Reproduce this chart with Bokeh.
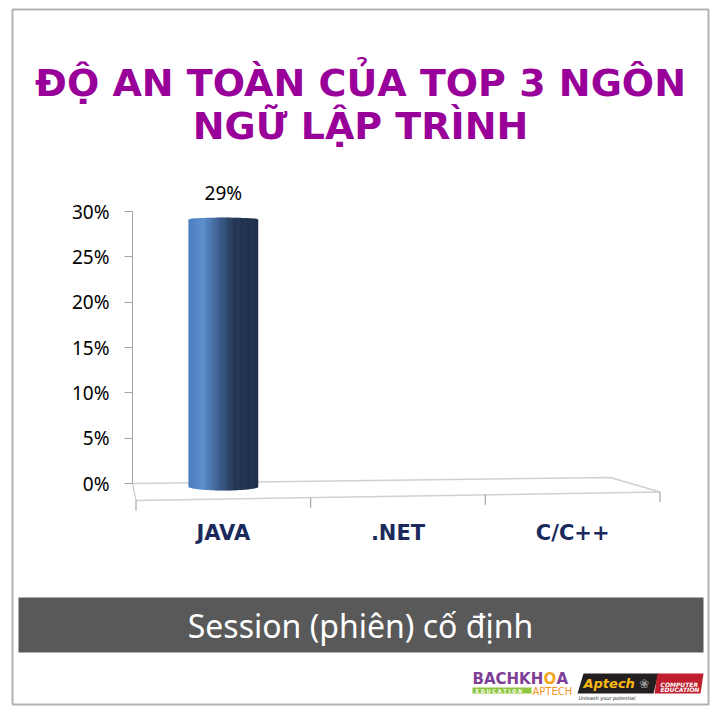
import numpy as np
from bokeh.plotting import figure
from bokeh.models import (Range1d, FixedTicker, NumeralTickFormatter,
                          Label, BoxAnnotation, PolyAnnotation)
from bokeh.embed import file_html
from bokeh.resources import INLINE
from bokeh.core.properties import value

# ---------------- data ----------------
title_lines = ["ĐỘ AN TOÀN CỦA TOP 3 NGÔN", "NGỮ LẬP TRÌNH"]
categories = ["JAVA", ".NET", "C/C++"]
values = [0.29, 0.0, 0.0]
value_labels = ["29%", "", ""]
y_ticks = [0.0, 0.05, 0.10, 0.15, 0.20, 0.25, 0.30]
footer_text = "Session (phiên) cố định"

# ---------------- geometry (page pixels) ----------------
W = H = 720
X0_PAGE, XS = 135.5, 174.67     # page x of category-axis origin, px per category
Y0_PAGE, YS = 483.0, 906.6      # page y of 0%, px per unit (100%)
n = len(categories)

def sx(px):   # page x -> screen units
    return px

def sy(py):   # page y -> screen units (from bottom)
    return H - py

def dx(px):   # page x -> data x
    return (px - X0_PAGE) / XS

def dy(py):   # page y -> data y
    return (Y0_PAGE - py) / YS

p = figure(width=W, height=H, output_backend="svg", toolbar_location=None, title=None,
           x_range=Range1d(dx(0), dx(W)), y_range=Range1d(dy(H), dy(0)),
           min_border=0, min_border_left=0, min_border_right=0,
           min_border_top=0, min_border_bottom=0)
p.outline_line_color = None
p.xgrid.visible = False
p.ygrid.visible = False
p.background_fill_color = "white"
p.border_fill_color = "white"

# y axis (drawn at a fixed location inside the canvas)
yax = p.yaxis[0]
yax.fixed_location = dx(132)
yax.ticker = FixedTicker(ticks=y_ticks)
yax.formatter = NumeralTickFormatter(format="0%")
yax.bounds = (y_ticks[0], y_ticks[-1])
yax.axis_line_color = "#A6A6A6"
yax.major_tick_line_color = "#A6A6A6"
yax.major_tick_out = 8
yax.major_tick_in = 0
yax.minor_tick_line_color = None
yax.major_label_text_font = "Noto Sans"
yax.major_label_text_font_size = "19px"
yax.major_label_text_color = "black"
yax.major_label_standoff = 15

# x axis (category labels)
xax = p.xaxis[0]
xax.fixed_location = dy(510)
xax.ticker = FixedTicker(ticks=[i + 0.5 for i in range(n)])
xax.major_label_overrides = {i + 0.5: c for i, c in enumerate(categories)}
xax.axis_line_color = None
xax.major_tick_line_color = None
xax.minor_tick_line_color = None
xax.major_label_text_font = "DejaVu Sans"
xax.major_label_text_font_style = "bold"
xax.major_label_text_font_size = "21px"
xax.major_label_text_color = "#1B2A5C"
xax.major_label_standoff = 4

# ---------------- 3D floor ----------------
def yfront(x):
    return dy(500) + (x / n) * (dy(491.5) - dy(500))

left_edge = dx(132)
p.line([left_edge, n * 0.905, n], [0.0, dy(477), yfront(n)], line_color="#D0D0D0", line_width=1.5)
p.line([0, n], [yfront(0), yfront(n)], line_color="#D0D0D0", line_width=1.5)
p.line([left_edge, 0], [0.0, yfront(0)], line_color="#C8C8C8", line_width=1.2)
bx = list(range(n + 1))
p.segment(x0=bx, y0=[yfront(x) for x in bx], x1=bx,
          y1=[yfront(x) - 10 / YS for x in bx], line_color="#A6A6A6", line_width=1.2)

# ---------------- cylinder bars (gradient strips) ----------------
stops_t = [0.0, 0.2, 0.45, 0.65, 1.0]
stops_c = [(0x4A, 0x7C, 0xBD), (0x5E, 0x90, 0xD0), (0x3B, 0x5C, 0x8C),
           (0x24, 0x37, 0x56), (0x20, 0x30, 0x4C)]

def grad(t):
    r = np.interp(t, stops_t, [c[0] for c in stops_c])
    g = np.interp(t, stops_t, [c[1] for c in stops_c])
    b = np.interp(t, stops_t, [c[2] for c in stops_c])
    return "#%02x%02x%02x" % (int(r), int(g), int(b))

bar_w = 0.40
NS = 40
ov = 0.6 / XS
L, R, B, T, C = [], [], [], [], []
for i, v in enumerate(values):
    if v <= 0:
        continue
    c = i + 0.5
    for k in range(NS):
        t0, t1 = k / NS, (k + 1) / NS
        tm = (t0 + t1) / 2
        u = 2 * tm - 1
        e = np.sqrt(max(0.0, 1 - u * u))
        L.append(c - bar_w / 2 + t0 * bar_w)
        R.append(c - bar_w / 2 + t1 * bar_w + (ov if k < NS - 1 else 0))
        B.append(-(3 + 4 * e) / YS)
        T.append(v + (1 + 2 * e) / YS)
        C.append(grad(tm))
p.quad(left=L, right=R, bottom=B, top=T, fill_color=C, line_color=None)

lab_x = [i + 0.5 for i, v in enumerate(values) if v > 0]
lab_y = [v for v in values if v > 0]
lab_t = [value_labels[i] for i, v in enumerate(values) if v > 0]
p.text(x=lab_x, y=lab_y, text=lab_t, text_align="center", text_baseline="bottom",
       y_offset=-15, text_font=value("Noto Sans"), text_font_size="19px", text_color="black")

# ---------------- helpers ----------------
def lbl(x, y, text, size, color, style="bold", font="DejaVu Sans", align="left"):
    p.add_layout(Label(x=sx(x), y=sy(y), x_units="screen", y_units="screen", text=text,
                       text_align=align, text_baseline="middle", text_font=font,
                       text_font_style=style, text_font_size=size, text_color=color))

def box(l, r, t, b, color, **kw):
    p.add_layout(BoxAnnotation(left=sx(l), right=sx(r), top=sy(t), bottom=sy(b),
                               left_units="screen", right_units="screen", top_units="screen",
                               bottom_units="screen", fill_color=color, fill_alpha=1.0,
                               line_color=None, **kw))

def poly(xs, ys, color):
    p.add_layout(PolyAnnotation(xs=[sx(x) for x in xs], ys=[sy(y) for y in ys],
                                xs_units="screen", ys_units="screen", fill_color=color,
                                fill_alpha=1.0, line_color=None))

# ---------------- title ----------------
for line, mid in zip(title_lines, [82, 125]):
    lbl(360, mid, line, "38px", "#990099", style="bold", align="center")

# ---------------- footer band ----------------
box(18, 703, 597, 652, "#595959")
lbl(360, 625, footer_text, "32px", "white", style="normal", font="Noto Sans", align="center")

# ---------------- logo ----------------
lbl(472, 678.5, "BACHKH", "15px", "#7F3F98")
lbl(543, 678.5, "O", "15px", "#F5A623")
lbl(556, 678.5, "A", "15px", "#7F3F98")
box(472, 531, 687, 693, "#8DC63F")
lbl(475, 690, "E D U C A T I O N", "5px", "white")
lbl(532, 690.5, "APTECH", "10px", "#F7941D", style="normal")
poly([583, 658, 653, 577], [673, 673, 693, 693], "#231F20")
poly([657, 703, 700, 654], [673, 673, 693, 693], "#BE1E2D")
lbl(583, 683, "Aptech", "13px", "#FDB913", style="bold italic")
lbl(644, 683, "❀", "12px", "#9A9A9A", style="normal", align="center")
lbl(660, 683.5, "COMPUTER", "6px", "white", style="bold italic")
lbl(660, 689, "EDUCATION", "6px", "white", style="bold italic")
lbl(578, 697.5, "Unleash your potential", "5px", "#231F20", style="italic")

# ---------------- outer frame ----------------
p.add_layout(BoxAnnotation(left=sx(12), right=sx(708), top=sy(9), bottom=sy(704),
                           left_units="screen", right_units="screen", top_units="screen",
                           bottom_units="screen", fill_alpha=0.0, line_color="black",
                           line_width=2))

open("out.html", "w").write(file_html(p, INLINE))
